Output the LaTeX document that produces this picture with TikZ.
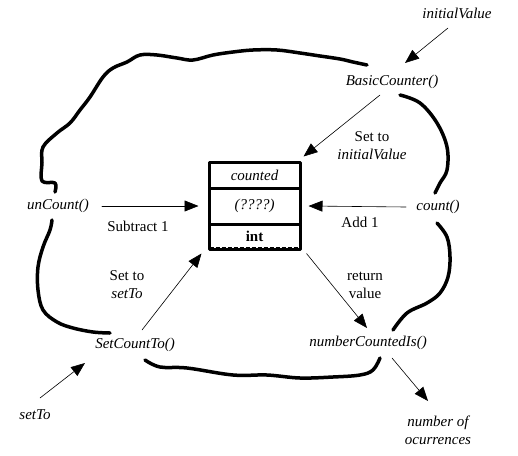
\documentclass[tikz,border=0pt]{standalone}
\usepackage{fontspec}
\setmainfont{Liberation Serif}
\usetikzlibrary{arrows.meta}

\begin{document}
\begin{tikzpicture}[line cap=round,line join=round,x=1pt,y=-1pt,
  txt/.style={font=\fontsize{15}{18}\selectfont,inner sep=2pt,align=center},
  fn/.style={font=\fontsize{15}{18}\selectfont\itshape,inner sep=2pt,align=center},
  cell/.style={draw,line width=3pt,minimum width=91pt,inner sep=0pt,font=\fontsize{15}{18}\selectfont},
  arr/.style={-{Triangle[length=14pt,width=11pt]},line width=0.6pt},
  blob/.style={line width=3.5pt}]
\useasboundingbox (0,0) rectangle (518,455);
% the object's state
\node[cell,minimum height=26pt] (cnt) at (254.5,175) {\itshape counted};
\node[cell,minimum height=36pt] (val) at (254.5,206) {\itshape (????)};
\node[cell,minimum height=25pt] (typ) at (254.5,236.5) {\bfseries int};
\draw[dash pattern=on 4pt off 2pt,line width=0.6pt,line cap=butt]
  ([shift={(2,-3)}]typ.south west) -- ([shift={(-2,-3)}]typ.south east);
% methods
\node[fn] (bc) at (392,82) {BasicCounter()};
\node[fn] (unc) at (58,206) {unCount()};
\node[fn] (cou) at (438,207) {count()};
\node[fn] (sct) at (135,345) {SetCountTo()};
\node[fn] (nci) at (368,343) {numberCountedIs()};
% parameters and results
\node[fn] (ival) at (457,13) {initialValue};
\node[fn] (setto) at (35,415) {setTo};
\node[fn] (occ) at (438,430) {number of\\ocurrences};
% labels
\node[txt] (l1) at (372,146) {Set to\\\itshape initialValue};
\node[txt] (l2) at (138,226) {Subtract 1};
\node[txt] (l3) at (360,222) {Add 1};
\node[txt] (l4) at (127,285) {Set to\\\itshape setTo};
\node[txt] (l5) at (365,285) {return\\value};
% arrows
\draw[arr] ([shift={(-9,15)}]ival.center) -- ([shift={(13,-19)}]bc.center);
\draw[arr] ([shift={(-12,13)}]bc.center) -- ([shift={(2,-4)}]cnt.north east);
\draw[arr] ([shift={(44,0)}]unc.center) -- ([shift={(-9,0)}]val.west);
\draw[arr] ([shift={(-32,0)}]cou.center) -- ([shift={(7,0)}]val.east);
\draw[arr] ([shift={(7,-15)}]sct.center) -- ([shift={(-6,3)}]typ.south west);
\draw[arr] ([shift={(5,-17)}]setto.center) -- ([shift={(-50,18)}]sct.center);
\draw[arr] ([shift={(5,3)}]typ.south east) -- ([shift={(-1,-15)}]nci.center);
\draw[arr] ([shift={(24,15)}]nci.center) -- ([shift={(-10,-29)}]occ.center);
% the wall round the object
\draw[blob] plot[smooth,tension=0.6] coordinates {(55,192) (55,183) (42,181) (42,163)
  (43,147) (57,133) (70,123) (80,110) (90,97) (103,77) (113,68) (127,62) (140,55)
  (157,55) (177,58) (193,60) (213,55) (233,52) (253,50) (277,50) (300,53) (320,56)
  (340,59) (353,62) (367,65)};
\draw[blob] plot[smooth,tension=0.6] coordinates {(400,95) (420,103) (437,123)
  (447,147) (447,170) (440,183) (435,193)};
\draw[blob] plot[smooth,tension=0.6] coordinates {(437,223) (447,237) (450,257)
  (448,277) (440,293) (427,303) (407,313) (393,330)};
\draw[blob] plot[smooth,tension=0.6] coordinates {(380,358) (373,370) (360,375)
  (333,377) (300,378) (267,375) (233,375) (187,368) (160,367) (145,360)};
\draw[blob] plot[smooth,tension=0.6] coordinates {(110,333) (93,332) (73,328)
  (57,322) (43,310) (38,290) (38,267) (43,247) (50,230) (52,220)};
\end{tikzpicture}
\end{document}
